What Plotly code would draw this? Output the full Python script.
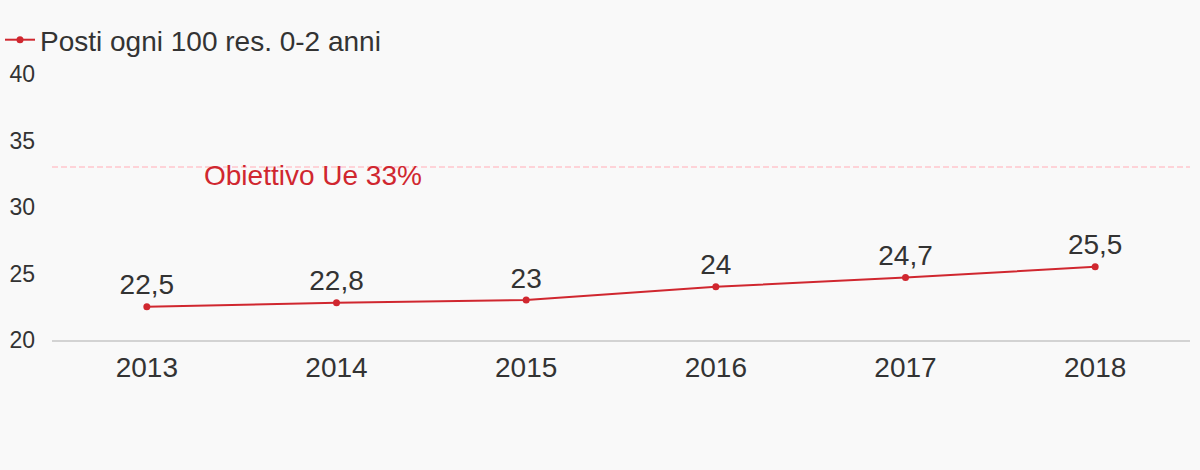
import plotly.graph_objects as go

years = ["2013", "2014", "2015", "2016", "2017", "2018"]
posti = [22.5, 22.8, 23.0, 24.0, 24.7, 25.5]
posti_labels = ["22,5", "22,8", "23", "24", "24,7", "25,5"]
y_ticks = [20, 25, 30, 35, 40]
target_value = 33
target_label = "Obiettivo Ue 33%"
series_name = "Posti ogni 100 res. 0-2 anni"

RED = "#d0272f"
TEXT = "#333333"
BG = "#f9f9f9"
FONT = "Liberation Sans, Arial, sans-serif"

fig = go.Figure()
fig.add_trace(go.Scatter(
    x=years, y=posti, name=series_name,
    mode="lines+markers+text",
    text=posti_labels, textposition="top center",
    textfont=dict(size=28, color=TEXT, family=FONT),
    line=dict(color=RED, width=2),
    marker=dict(color=RED, size=7),
    cliponaxis=False,
))

fig.add_shape(type="line", xref="paper", x0=0, x1=1, yref="y", y0=target_value, y1=target_value,
              line=dict(color="#ffc6cd", width=1.5, dash="6px,3px"), layer="below")
fig.add_annotation(xref="paper", x=(202 - 52) / 1138, xanchor="left",
                   yref="y", y=target_value, yanchor="top", yshift=9,
                   text=target_label, showarrow=False,
                   font=dict(size=28, color=RED, family=FONT))

fig.update_layout(
    width=1200, height=470,
    paper_bgcolor=BG, plot_bgcolor=BG,
    font=dict(family=FONT, color=TEXT),
    margin=dict(l=52, r=10, t=74, b=130, autoexpand=False),
    showlegend=True,
    legend=dict(xref="container", yref="container", x=0, y=1 - 15 / 470, xanchor="left", yanchor="top",
                orientation="h", font=dict(size=28, color=TEXT, family=FONT),
                bgcolor="rgba(0,0,0,0)", itemwidth=30),
    xaxis=dict(type="category", range=[-0.5, 5.5], showgrid=False, zeroline=False,
               showline=True, linecolor="#d3d3d3", linewidth=2, automargin=False,
               ticks="", tickfont=dict(size=28, color=TEXT, family=FONT), ticklabelstandoff=1),
    yaxis=dict(range=[20, 40], tickvals=y_ticks, showgrid=False, zeroline=False, showline=False,
               automargin=False,
               ticks="", tickfont=dict(size=23, color=TEXT, family=FONT), ticklabelstandoff=16),
)

fig.write_html("out.html", config={"displayModeBar": False},
               post_script="document.body.style.margin='0';document.body.style.background='%s';" % BG)
